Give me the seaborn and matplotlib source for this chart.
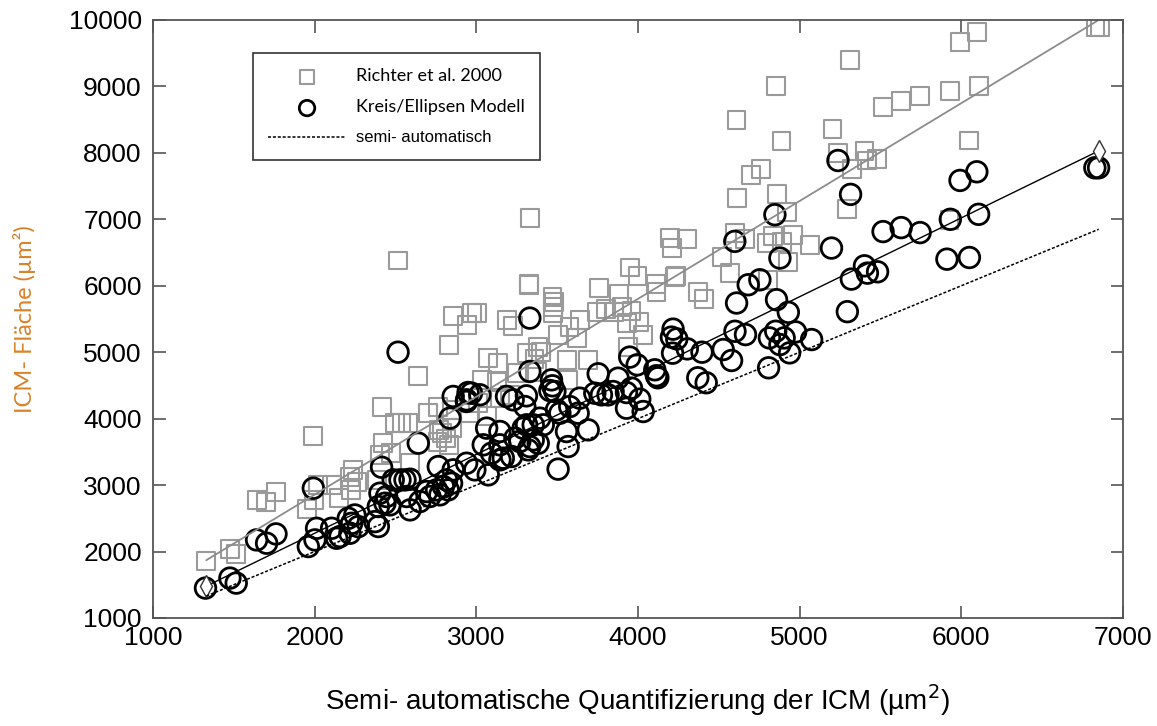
import numpy as np
import pandas as pd
import matplotlib
matplotlib.use("Agg")
import matplotlib.pyplot as plt
import seaborn as sns

# Richter et al. 2000 (grey squares)
richter_x = [1328, 1476, 1513, 1643, 1699, 1761, 1990, 1952, 1996, 2020, 2107, 2150, 2224, 2218,
             2237, 2261, 2385, 2404, 2422, 2472, 2416, 2497, 2537, 2577, 2589, 2515, 2639, 2700,
             2763, 2849, 2760, 2790, 2810, 2830, 2770, 2850, 2831, 2855, 2942, 2973, 3003, 3065,
             2960, 3010, 3034, 3072, 3134, 3146, 3190, 3226, 3313, 3381, 3360, 3400, 3331, 3325,
             3251, 3375, 3566, 3127, 3208, 3474, 3474, 3640, 3622, 3505, 3745, 3800, 3850, 3900,
             3960, 3931, 4005, 4030, 3937, 3560, 3690, 3328, 3471, 3479, 3576, 3758, 3883, 3953,
             3997, 4109, 4115, 4234, 4370, 4409, 4197, 4209, 4302, 4599, 4661, 4834, 4797, 4890,
             4958, 5063, 4927, 4519, 4569, 4228, 4803, 4612, 4920, 4698, 4760, 4888, 4852, 4609,
             5203, 5237, 5323, 5401, 5417, 5479, 5294, 5312, 5516, 5628, 5745, 5932, 5992, 6096,
             6107, 6050, 5927, 6830, 6857, 4859]
richter_y = [1860, 2040, 1960, 2780, 2740, 2890, 3741, 2641, 2777, 3003, 3003, 2807, 2928, 3124,
             3229, 3048, 3078, 3455, 3636, 3485, 4178, 3930, 3930, 3930, 3340, 6380, 4645, 4087,
             4178, 4132, 3650, 3780, 3700, 3600, 3830, 3860, 5111, 5548, 5412, 5593, 5593, 4042,
             4087, 4238, 4584, 4916, 4840, 4313, 5480, 5400, 4990, 5081, 4900, 5000, 7024, 6015,
             4690, 4705, 4584, 4554, 4358, 5683, 5593, 5488, 5217, 5262, 5600, 5650, 5600, 5680,
             5620, 5443, 5458, 5262, 5081, 4885, 4885, 6025, 5835, 5750, 5375, 5960, 5875, 6275,
             6150, 6025, 5910, 6150, 5900, 5800, 6723, 6572, 6708, 6798, 6708, 6753, 6640, 6663,
             6768, 6617, 6361, 6436, 6196, 6135, 6090, 7325, 7114, 7665, 7760, 8175, 9010, 8500,
             8365, 8000, 7760, 8025, 7885, 7910, 7150, 9400, 8685, 8775, 8850, 8925, 9665, 9825,
             9010, 8185, 6990, 9900, 9900, 7375]

# Kreis/Ellipsen Modell (black circles)
kreis_x = [1325, 1476, 1515, 1641, 1703, 1761, 1961, 1992, 2002, 2012, 2105, 2136, 2157, 2208,
           2229, 2249, 2270, 2218, 2373, 2394, 2404, 2414, 2435, 2445, 2394, 2466, 2486, 2528,
           2559, 2590, 2516, 2569, 2590, 2641, 2651, 2693, 2713, 2754, 2765, 2775, 2796, 2826,
           2847, 2816, 2837, 2857, 2857, 2940, 2949, 2970, 2939, 2940, 2991, 3074, 3022, 3064,
           3146, 3043, 3094, 3146, 3167, 3218, 3239, 3187, 3228, 3310, 3331, 3331, 3465, 3471,
           3486, 3455, 3754, 3949, 3995, 4104, 4114, 4123, 4217, 4207, 3877, 3733, 3774, 3815,
           3846, 3929, 3960, 4011, 3929, 4032, 3640, 3578, 3630, 3496, 3517, 3300, 3393, 3352,
           3414, 3311, 3290, 3352, 3331, 3383, 3558, 3692, 3568, 3506, 3269, 3321, 4240, 4305,
           4214, 4396, 4527, 4579, 4600, 4665, 4813, 4852, 4904, 4878, 4975, 5074, 4938, 4808,
           4370, 4422, 4610, 4857, 4930, 5295, 4682, 4754, 4599, 4847, 4878, 5197, 5237, 5315,
           5320, 5401, 5419, 5482, 5516, 5628, 5745, 5911, 5932, 5992, 6050, 6096, 6107, 6826,
           6849, 3146]
kreis_y = [1450, 1600, 1525, 2175, 2125, 2265, 2075, 2953, 2175, 2350, 2350, 2200, 2225, 2500,
           2425, 2550, 2375, 2275, 2450, 2376, 2878, 3269, 2727, 2828, 2677, 2702, 3078, 3078,
           3078, 3088, 5000, 2828, 2627, 3631, 2752, 2903, 2828, 2928, 3279, 2853, 2978, 2928,
           3028, 3078, 4007, 3229, 4334, 4283, 4393, 4383, 4258, 3329, 3229, 3154, 4359, 3857,
           3807, 3606, 3480, 3606, 3405, 3430, 3706, 4334, 4283, 4343, 5513, 4710, 4584, 4494,
           4408, 4423, 4675, 4926, 4810, 4735, 4645, 4615, 5347, 5227, 4609, 4383, 4358, 4358,
           4408, 4393, 4459, 4293, 4157, 4107, 4308, 4182, 4082, 4132, 4082, 4182, 4007, 3907,
           3907, 3907, 3856, 3681, 3580, 3630, 3806, 3831, 3580, 3240, 3656, 3530, 5200, 5050,
           4985, 5000, 5040, 4875, 5315, 5265, 5215, 5315, 5215, 5115, 5305, 5190, 4990, 4765,
           4615, 4540, 5740, 5790, 5600, 5610, 6015, 6090, 6668, 7069, 6417, 6567, 7885, 7375,
           6100, 6300, 6190, 6210, 6815, 6875, 6800, 6400, 7000, 7585, 6425, 7715, 7075, 7775,
           7775, 3380]

# fitted lines (end points)
line_x = [1330, 6850]
richter_fit_y = [1870, 10000]
kreis_fit_y = [1480, 8030]
semi_y = [1330, 6850]

x_ticks = [1000, 2000, 3000, 4000, 5000, 6000, 7000]
y_ticks = [1000, 2000, 3000, 4000, 5000, 6000, 7000, 8000, 9000, 10000]

sns.set_theme(style="ticks")
plt.rcParams['font.family'] = ['Liberation Sans', 'DejaVu Sans']
plt.rcParams['text.color'] = 'black'
plt.rcParams['xtick.labelcolor'] = 'black'
plt.rcParams['ytick.labelcolor'] = 'black'

fig = plt.figure(figsize=(11.57, 7.26), dpi=100)
ax = fig.add_axes([0.1322, 0.1488, 0.8384, 0.8237])

# fit lines
sns.lineplot(x=line_x, y=richter_fit_y, color='#8c8c8c', linewidth=1.3, ax=ax)
sns.lineplot(x=line_x, y=kreis_fit_y, color='black', linewidth=1.0, marker='d',
             markersize=11, markerfacecolor='white', markeredgecolor='#333333',
             markeredgewidth=1.0, ax=ax)
sns.lineplot(x=line_x, y=semi_y, color='black', linewidth=1.1, linestyle=(0, (2, 1.2)),
             label='semi- automatisch', ax=ax)

# scatter
sns.scatterplot(x=richter_x, y=richter_y, marker='s', s=165, facecolor='none',
                edgecolor='#9a9a9a', linewidth=1.5, label='Richter et al. 2000', ax=ax)
sns.scatterplot(x=kreis_x, y=kreis_y, marker='o', s=220, facecolor='none',
                edgecolor='black', linewidth=2.0, label='Kreis/Ellipsen Modell', ax=ax)

ax.set_xlim(1000, 7000)
ax.set_ylim(1000, 10000)
ax.set_xticks(x_ticks)
ax.set_yticks(y_ticks)
ax.tick_params(direction='in', length=9, width=1.2, color='#555555', labelsize=19,
               labelcolor='black', top=True, right=True, labeltop=False, labelright=False)
ax.tick_params(axis='y', pad=8)
ax.tick_params(axis='x', pad=6)
for sp in ax.spines.values():
    sp.set_visible(True)
    sp.set_color('#555555')
    sp.set_linewidth(1.3)

ax.set_xlabel('Semi- automatische Quantifizierung der ICM (µm$^2$)', fontsize=20, color='black')
ax.xaxis.set_label_coords(0.5, -0.108)
ax.set_ylabel('ICM- Fläche (µm²)', fontsize=17, color='#d9822b',
              family=['Lato', 'DejaVu Sans'])
ax.yaxis.set_label_coords(-0.121, 0.5)

handles, labels = ax.get_legend_handles_labels()
order = [labels.index('Richter et al. 2000'), labels.index('Kreis/Ellipsen Modell'),
         labels.index('semi- automatisch')]
leg = ax.legend([handles[i] for i in order], [labels[i] for i in order],
                loc='upper left', bbox_to_anchor=(0.103, 0.944), borderaxespad=0,
                frameon=True, fancybox=False, edgecolor='#333333', framealpha=1,
                handlelength=4.7, handletextpad=0.6, labelspacing=0.9,
                borderpad=0.9, markerscale=0.75, fontsize=12)
leg.get_frame().set_linewidth(1.2)
for t in leg.get_texts():
    t.set_color('black')
for t in leg.get_texts()[:2]:
    t.set_fontfamily(['Lato', 'DejaVu Sans'])
    t.set_fontsize(13)

fig.savefig('out.png', dpi=100)
